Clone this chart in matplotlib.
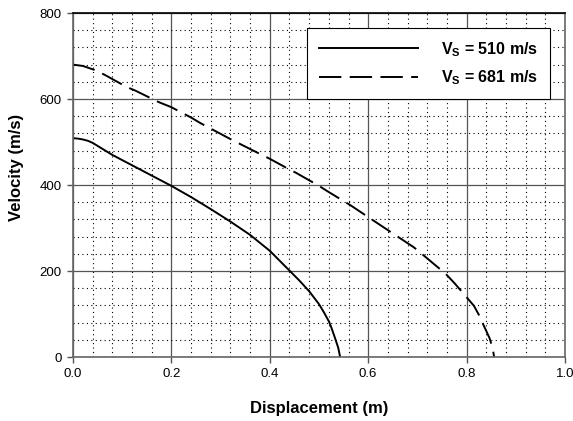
import matplotlib
matplotlib.use("Agg")
import matplotlib.pyplot as plt
from matplotlib.ticker import MultipleLocator

plt.rcParams["font.family"] = ["Liberation Sans", "DejaVu Sans"]
plt.rcParams["mathtext.fontset"] = "custom"
plt.rcParams["mathtext.rm"] = "Liberation Sans"
plt.rcParams["mathtext.bf"] = "Liberation Sans:bold"

disp_510 = [0.0, 0.01, 0.02, 0.03, 0.04, 0.08, 0.12, 0.16, 0.2, 0.24, 0.28, 0.32, 0.36,
            0.4, 0.44, 0.46, 0.48, 0.5, 0.51, 0.52, 0.525, 0.532, 0.539, 0.543]
vel_510 = [509, 508, 506, 503, 498, 470, 446, 422, 398, 372, 344, 315, 284,
           247, 201, 178, 153, 123, 104, 83, 69, 46, 22, 0]

disp_681 = [0.0, 0.02, 0.043, 0.065, 0.109, 0.126, 0.174, 0.2, 0.24, 0.259, 0.305, 0.323,
            0.37, 0.4, 0.437, 0.454, 0.5, 0.518, 0.564, 0.581, 0.627, 0.648, 0.693, 0.712,
            0.758, 0.776, 0.815, 0.825, 0.847, 0.853, 0.856]
vel_681 = [680, 677, 668, 656, 628, 620, 593, 581, 557, 544, 516, 505,
           478, 461, 438, 428, 398, 385, 353, 340, 305, 289, 255, 237,
           193, 171, 119, 98, 43, 20, 0]

labels = ["V$_{\\mathbf{S}}$ = 510 m/s", "V$_{\\mathbf{S}}$ = 681 m/s"]

fig = plt.figure(figsize=(5.73, 4.21), dpi=100, facecolor="white")
ax = fig.add_axes([0.1274, 0.152, 0.8586, 0.817])

ax.plot(disp_510, vel_510, color="black", lw=1.4, label=labels[0])
ax.plot(disp_681, vel_681, color="black", lw=1.4, dashes=(11.5, 4.3), label=labels[1])

ax.set_xlim(0, 1.0)
ax.set_ylim(0, 800)
ax.xaxis.set_major_locator(MultipleLocator(0.2))
ax.xaxis.set_minor_locator(MultipleLocator(0.04))
ax.yaxis.set_major_locator(MultipleLocator(200))
ax.yaxis.set_minor_locator(MultipleLocator(40))
ax.xaxis.set_major_formatter(lambda v, p: f"{v:.1f}")

ax.grid(which="major", color="#555555", lw=0.9, ls="-")
ax.grid(which="minor", color="black", lw=0.8, ls=(0, (1, 3)))
ax.set_axisbelow(True)

ax.tick_params(which="major", direction="out", length=4, width=1, color="#555555",
               labelsize=9.5, pad=4)
ax.tick_params(which="minor", length=0)
for s in ax.spines.values():
    s.set_color("#666666"); s.set_linewidth(1.2)
ax.spines["top"].set_color("black")

ax.set_xlabel("Displacement (m)", fontsize=12, fontweight="bold")
ax.xaxis.set_label_coords(0.5, -0.127)
ax.set_ylabel("Velocity (m/s)", fontsize=12, fontweight="bold")
ax.yaxis.set_label_coords(-0.1, 0.55)

leg = ax.legend(loc="upper right", bbox_to_anchor=(0.985, 0.98),
                prop={"weight": "bold", "size": 11.5}, handlelength=6.2, handletextpad=1.4,
                borderpad=0.75, labelspacing=0.6, fancybox=False, framealpha=1,
                edgecolor="black")
leg.get_frame().set_linewidth(0.8)

fig.savefig("out.png", dpi=100, facecolor="white")
